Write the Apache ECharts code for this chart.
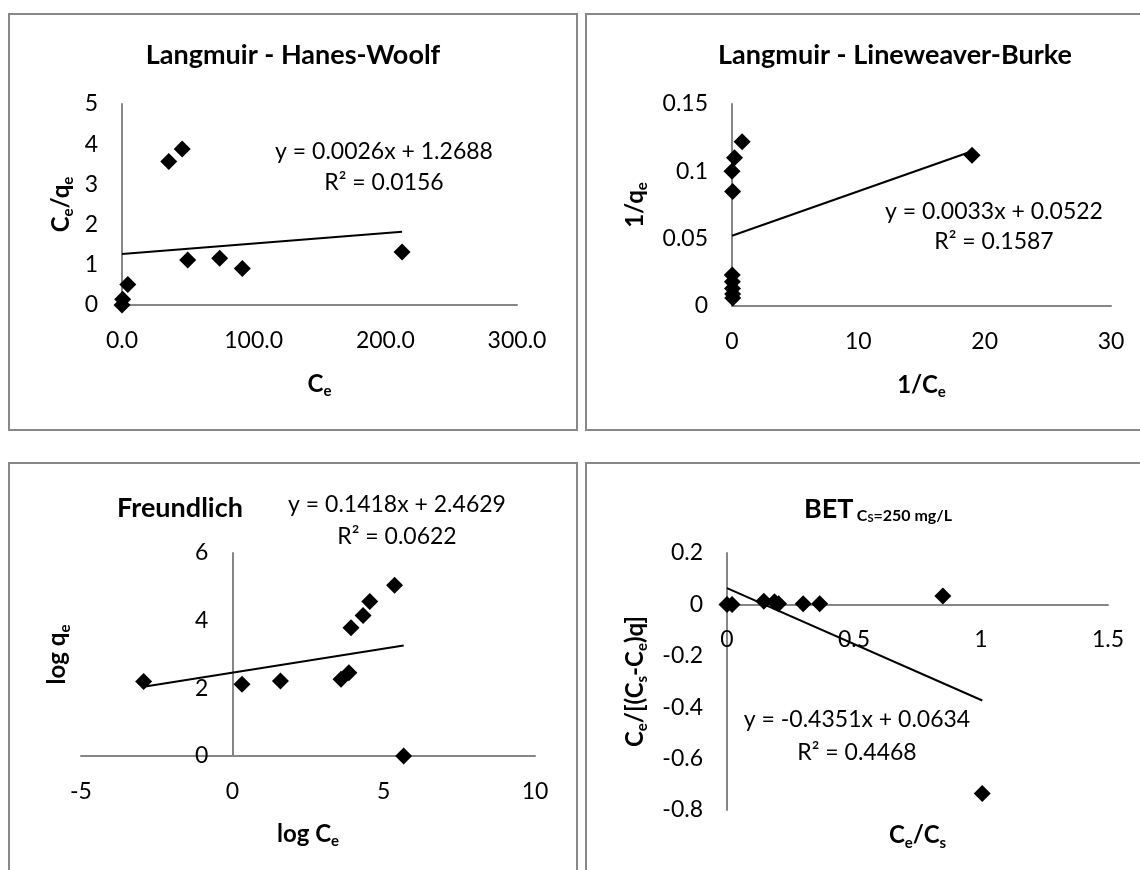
<!DOCTYPE html>
<html>
<head>
<meta charset="utf-8">
<script src="https://cdn.jsdelivr.net/npm/echarts@6/dist/echarts.min.js"></script>
<style>
  html, body { margin: 0; padding: 0; background: #fff; }
  #chart { width: 1140px; height: 870px; }
</style>
</head>
<body>
<div id="chart"></div>
<script>
// Langmuir - Hanes-Woolf (Ce vs Ce/qe)
const hwCe = [0, 0.5, 4.4, 35.5, 45.7, 49.9, 74.2, 91.4, 212.7];
const hwRatio = [0, 0.14, 0.51, 3.57, 3.88, 1.12, 1.16, 0.91, 1.32];
const hwFit = [0.0026, 1.2688];

// Langmuir - Lineweaver-Burke (1/Ce vs 1/qe)
const lbInvCe = [0.8, 0.2, 0.0, 0.05, 19.0, 0.02, 0.03, 0.04, 0.05, 0.06];
const lbInvQe = [0.122, 0.110, 0.100, 0.085, 0.112, 0.023, 0.018, 0.013, 0.009, 0.006];
const lbFit = [0.0033, 0.0522];

// Freundlich (log Ce vs log qe)
const frLogCe = [-2.93, 0.32, 1.59, 3.59, 3.85, 3.92, 4.32, 4.54, 5.36, 5.66];
const frLogQe = [2.20, 2.12, 2.22, 2.27, 2.46, 3.79, 4.15, 4.57, 5.05, 0];
const frFit = [0.1418, 2.4629];

// BET, Cs = 250 mg/L (Ce/Cs vs Ce/[(Cs-Ce)q])
const betX = [0, 0.02, 0.145, 0.187, 0.203, 0.30, 0.365, 0.85, 1.005];
const betY = [0, 0, 0.012, 0.01, 0.003, 0.003, 0.003, 0.033, -0.736];
const betFit = [-0.4351, 0.0634];

const titles = ['Langmuir - Hanes-Woolf', 'Langmuir - Lineweaver-Burke', 'Freundlich'];
const equations = [
  ['y = 0.0026x + 1.2688', 'R² = 0.0156'],
  ['y = 0.0033x + 0.0522', 'R² = 0.1587'],
  ['y = 0.1418x + 2.4629', 'R² = 0.0622'],
  ['y = -0.4351x + 0.0634', 'R² = 0.4468']
];

const FONT = 'Lato, "Open Sans", sans-serif';
const AXIS_GREY = '#868686';

const chart = echarts.init(document.getElementById('chart'));

const pairs = (xs, ys) => xs.map((x, i) => [x, ys[i]]);
// trendline drawn across the data range, like Excel does
const trend = (xs, fit) => {
  const lo = Math.min(...xs), hi = Math.max(...xs);
  return [[lo, fit[0] * lo + fit[1]], [hi, fit[0] * hi + fit[1]]];
};

const nameRich = {
  b: { fontSize: 24, fontWeight: 'bold', fontFamily: FONT, color: '#000', lineHeight: 30 },
  s: { fontSize: 15, fontWeight: 'bold', fontFamily: FONT, color: '#000', lineHeight: 14, verticalAlign: 'bottom' }
};

function axis(opts) {
  return Object.assign({
    type: 'value',
    nameLocation: 'middle',
    nameTextStyle: { rich: nameRich },
    axisLine: { onZero: false, lineStyle: { color: AXIS_GREY, width: 2 } },
    axisTick: { show: false },
    splitLine: { show: false },
    axisLabel: { color: '#000', fontSize: 23, fontFamily: FONT, margin: 24 }
  }, opts);
}

function scatter(i, data) {
  return {
    type: 'scatter', xAxisIndex: i, yAxisIndex: i, data,
    symbol: 'diamond', symbolSize: 17,
    itemStyle: { color: '#000', opacity: 1 }, z: 3
  };
}

function fitLine(i, data) {
  return {
    type: 'line', xAxisIndex: i, yAxisIndex: i, data,
    showSymbol: false, silent: true,
    lineStyle: { color: '#000', width: 2 }, z: 4
  };
}

function frame(x, y, w, h) {
  return { type: 'rect', shape: { x, y, width: w, height: h }, style: { fill: 'none', stroke: '#888', lineWidth: 2 }, z: 0 };
}

function text(str, x, y, bold) {
  return {
    type: 'text', x, y, z: 10,
    style: { text: str, fontSize: bold ? 27 : 23, fontFamily: FONT, fontWeight: bold ? 'bold' : 'normal', fill: '#000', align: 'center', verticalAlign: 'middle' }
  };
}

const eqPos = [[384, 152, 183], [994, 212, 242], [397, 505, 537], [857, 720, 753]];

// grid boxes; the Freundlich y axis and the BET x axis sit at the other axis' zero
const grids = [
  { left: 122, top: 104, width: 395, height: 201 },
  { left: 732, top: 104, width: 379, height: 202 },
  { left: 81, top: 553, width: 454, height: 203 },
  { left: 727, top: 553, width: 381, height: 257 }
];
const frZeroOffset = -grids[2].width * 5 / 15;   // x = 0 on a -5..10 axis
const betZeroOffset = -grids[3].height * 0.8;    // y = 0 on a -0.8..0.2 axis

const graphic = [
  frame(9, 14, 568, 416),
  frame(586, 14, 620, 416),
  frame(9, 463, 568, 440),
  frame(586, 463, 620, 440),
  text(titles[0], 293, 55, true),
  text(titles[1], 895, 55, true),
  text(titles[2], 180, 508, true),
  {
    type: 'text', x: 878, y: 509, z: 10,
    style: {
      text: '{t|BET} {s|C}{ss|S}{s|=250 mg/L}',
      align: 'center', verticalAlign: 'middle',
      rich: {
        t: { fontSize: 27, fontWeight: 'bold', fontFamily: FONT, fill: '#000', lineHeight: 30 },
        s: { fontSize: 16, fontWeight: 'bold', fontFamily: FONT, fill: '#000', lineHeight: 10, verticalAlign: 'bottom' },
        ss: { fontSize: 11, fontWeight: 'bold', fontFamily: FONT, fill: '#000', lineHeight: 2, verticalAlign: 'bottom' }
      }
    }
  }
];
equations.forEach((eq, k) => {
  graphic.push(text(eq[0], eqPos[k][0], eqPos[k][1], false));
  graphic.push(text(eq[1], eqPos[k][0], eqPos[k][2], false));
});

const option = {
  animation: false,
  backgroundColor: '#fff',
  grid: grids.map(g => Object.assign({ outerBoundsMode: 'none', containLabel: false }, g)),
  xAxis: [
    axis({ gridIndex: 0, min: 0, max: 300, interval: 100, name: '{b|C}{s|e}', nameGap: 64,
      axisLabel: { color: '#000', fontSize: 23, fontFamily: FONT, margin: 24, formatter: v => v.toFixed(1) } }),
    axis({ gridIndex: 1, min: 0, max: 30, interval: 10, name: '{b|1/C}{s|e}', nameGap: 64 }),
    axis({ gridIndex: 2, min: -5, max: 10, interval: 5, name: '{b|log C}{s|e}', nameGap: 63 }),
    axis({ gridIndex: 3, min: 0, max: 1.5, interval: 0.5, name: '{b|C}{s|e}{b|/C}{s|s}', nameGap: 216, offset: betZeroOffset })
  ],
  yAxis: [
    axis({ gridIndex: 0, min: 0, max: 5, interval: 1, name: '{b|C}{s|e}{b|/q}{s|e}', nameGap: 46 }),
    axis({ gridIndex: 1, min: 0, max: 0.15, interval: 0.05, name: '{b|1/q}{s|e}', nameGap: 82 }),
    axis({ gridIndex: 2, min: 0, max: 6, interval: 2, name: '{b|log q}{s|e}', nameGap: 160, offset: frZeroOffset }),
    axis({ gridIndex: 3, min: -0.8, max: 0.2, interval: 0.2, name: '{b|C}{s|e}{b|/[(C}{s|s}{b|-C}{s|e}{b|)q]}', nameGap: 77,
      axisLabel: { color: '#000', fontSize: 23, fontFamily: FONT, margin: 24, formatter: v => String(Math.round(v * 10) / 10) } })
  ],
  series: [
    scatter(0, pairs(hwCe, hwRatio)),
    fitLine(0, trend(hwCe, hwFit)),
    scatter(1, pairs(lbInvCe, lbInvQe)),
    fitLine(1, trend(lbInvCe, lbFit)),
    scatter(2, pairs(frLogCe, frLogQe)),
    fitLine(2, trend(frLogCe, frFit)),
    scatter(3, pairs(betX, betY)),
    fitLine(3, trend(betX, betFit))
  ],
  graphic
};

chart.setOption(option);
</script>
</body>
</html>
